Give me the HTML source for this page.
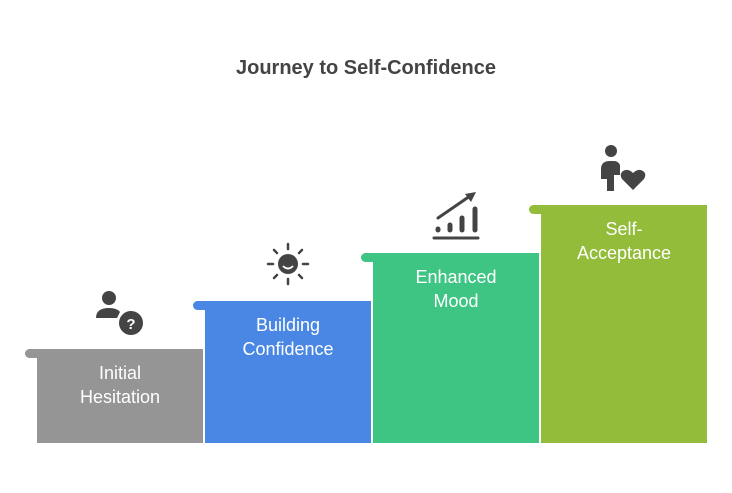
<html><head><style>
body{margin:0;width:732px;height:493px;background:#fff;font-family:"Liberation Sans",sans-serif;position:relative;overflow:hidden}
.t{position:absolute;left:0;width:732px;top:57px;text-align:center;font-size:20px;font-weight:bold;color:#444}
.tab{position:absolute;height:9px;border-radius:5px 0 0 5px}
.b{position:absolute;bottom:50px;width:166px;color:#fff;font-size:18px;line-height:24px;text-align:center;box-sizing:border-box;padding-top:12px}
svg{position:absolute}
</style></head><body>
<div class="t">Journey to Self-Confidence</div>
<div class="tab" style="left:25px;top:349px;width:178px;background:#959595"></div>
<div class="b" style="left:37px;top:349px;background:#959595">Initial<br>Hesitation</div>
<div class="tab" style="left:193px;top:301px;width:178px;background:#4a87e4"></div>
<div class="b" style="left:205px;top:301px;background:#4a87e4">Building<br>Confidence</div>
<div class="tab" style="left:361px;top:253px;width:178px;background:#3ec584"></div>
<div class="b" style="left:373px;top:253px;background:#3ec584">Enhanced<br>Mood</div>
<div class="tab" style="left:529px;top:205px;width:178px;background:#92bc39"></div>
<div class="b" style="left:541px;top:205px;background:#92bc39">Self-<br>Acceptance</div>
<svg width="732" height="493" style="left:0;top:0" fill="#444">
<circle cx="109" cy="298" r="7"/><path d="M96 318 q0-10 13-10 q8 0 11 4 l-3 6z"/>
<circle cx="131" cy="323" r="12"/><text x="131" y="329" font-size="15" font-weight="bold" fill="#fff" text-anchor="middle" font-family="Liberation Sans">?</text>
<circle cx="288" cy="264" r="10"/><g stroke="#444" stroke-width="2.5" stroke-linecap="round">
<line x1="288" y1="244" x2="288" y2="249"/><line x1="288" y1="279" x2="288" y2="284"/><line x1="268" y1="264" x2="273" y2="264"/><line x1="303" y1="264" x2="308" y2="264"/>
<line x1="274" y1="250" x2="277" y2="253"/><line x1="299" y1="275" x2="302" y2="278"/><line x1="302" y1="250" x2="299" y2="253"/><line x1="277" y1="275" x2="274" y2="278"/></g>
<path d="M283 266 q5 5 10 0" stroke="#fff" stroke-width="1.8" fill="none"/>
<g stroke="#444" stroke-linecap="round"><line x1="434" y1="238" x2="478" y2="238" stroke-width="3"/><line x1="438" y1="229" x2="438" y2="230" stroke-width="5"/><line x1="450" y1="225" x2="450" y2="230" stroke-width="5"/><line x1="462" y1="218" x2="462" y2="230" stroke-width="5"/><line x1="475" y1="209" x2="475" y2="230" stroke-width="5"/><line x1="438" y1="218" x2="470" y2="196" stroke-width="3"/></g>
<path d="M476 192 l-11 2 6 8z"/>
<circle cx="611" cy="151" r="6"/><path d="M601 169 q0-8 9-8 h4 q4 0 6 4 v10 h-6 v16 h-7 v-12 h-6z"/>
<path d="M633 190 l-11-11 q-3-5 1-8 q5-3 10 2 q5-5 10-2 q4 3 1 8z"/>
</svg>
</body></html>
